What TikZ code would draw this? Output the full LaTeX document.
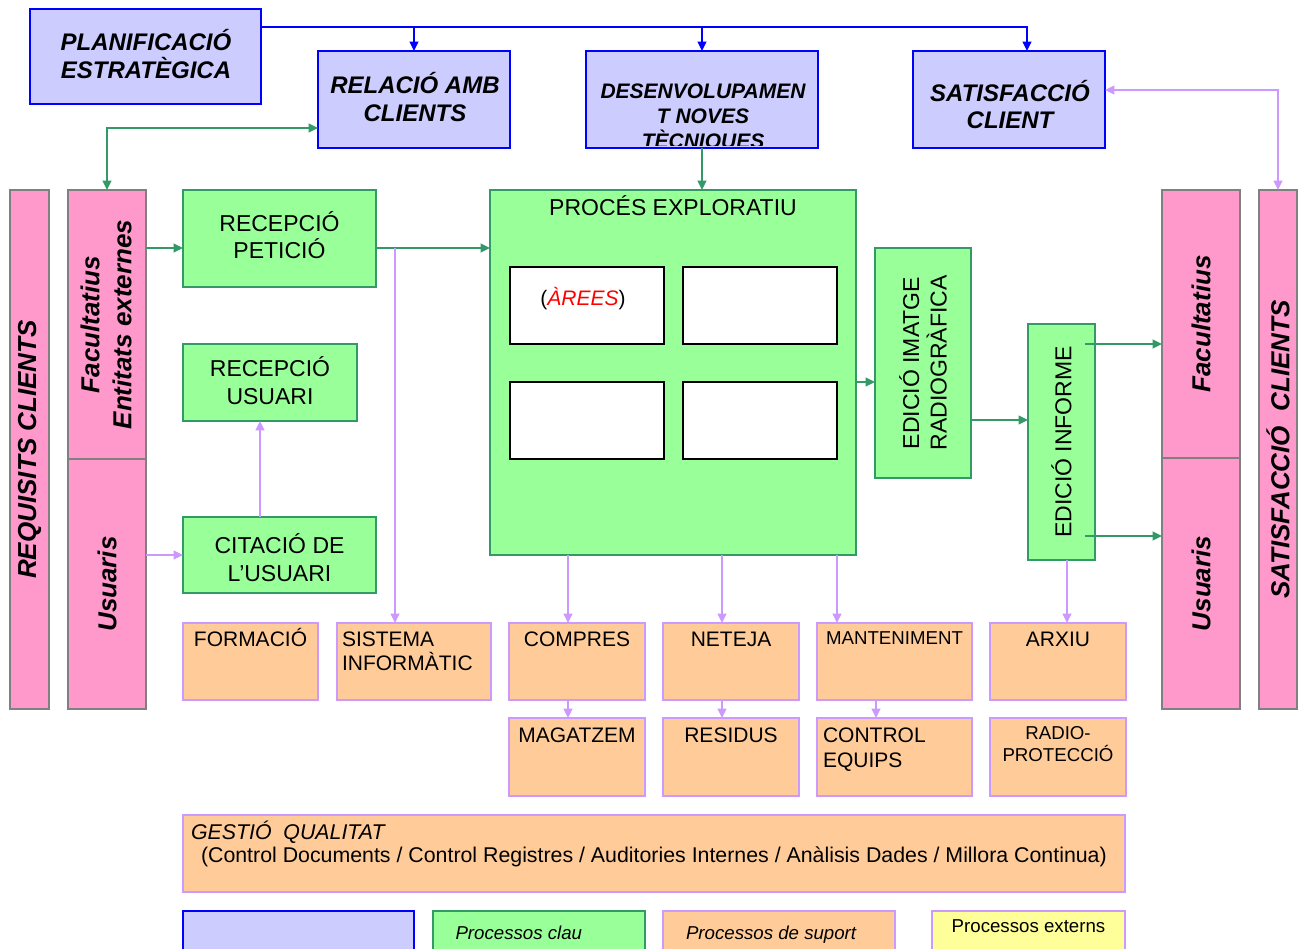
\documentclass[tikz,border=0pt]{standalone}
\usepackage{fontspec}
\setmainfont{Liberation Sans}
\usetikzlibrary{arrows.meta,fit,calc}

\definecolor{bline}{HTML}{0000FF}
\definecolor{bfill}{HTML}{CCCCFF}
\definecolor{gline}{HTML}{339966}
\definecolor{gfill}{HTML}{99FF99}
\definecolor{pline}{HTML}{808080}
\definecolor{pfill}{HTML}{FF99CC}
\definecolor{lav}{HTML}{CC99FF}
\definecolor{ofill}{HTML}{FFCC99}
\definecolor{yfill}{HTML}{FFFF99}
\definecolor{areared}{HTML}{FF0000}

\begin{document}
\begin{tikzpicture}[x=0.75pt,y=-0.75pt,
  every node/.style={inner sep=0pt, outer sep=0pt},
  box/.style={line width=1.8pt, inner sep=0pt, outer sep=0pt, fit={#1}},
  bluebox/.style={box={#1}, draw=bline, fill=bfill},
  greenbox/.style={box={#1}, draw=gline, fill=gfill},
  pinkbox/.style={box={#1}, draw=pline, fill=pfill},
  orbox/.style={box={#1}, draw=lav, fill=ofill},
  ylbox/.style={box={#1}, draw=lav, fill=yfill},
  whbox/.style={box={#1}, draw=black, fill=white, line width=1.4pt},
  toptext/.style={font=\fontsize{18}{21}\selectfont\bfseries\itshape, anchor=base},
  destext/.style={font=\fontsize{15.75}{18.75}\selectfont\bfseries\itshape, anchor=base},
  gtext/.style={font=\fontsize{17.25}{20.5}\selectfont, align=center},
  gline/.style={font=\fontsize{17.25}{20.5}\selectfont, anchor=base},
  coltext/.style={font=\fontsize{19.5}{24}\selectfont\bfseries\itshape, align=center},
  otext/.style={font=\fontsize{15.75}{18}\selectfont},
  qtext/.style={font=\fontsize{16}{18}\selectfont},
  stext/.style={font=\fontsize{14}{16.5}\selectfont},
  wire/.style={line width=1.4pt},
  garrow/.style={wire, draw=gline, -{Triangle[length=7pt,width=6.5pt]}},
  gboth/.style={wire, draw=gline, {Triangle[length=7pt,width=6.5pt]}-{Triangle[length=7pt,width=6.5pt]}},
  larrow/.style={wire, draw=lav, -{Triangle[length=7pt,width=6.5pt]}},
  lboth/.style={wire, draw=lav, {Triangle[length=7pt,width=6.5pt]}-{Triangle[length=7pt,width=6.5pt]}},
  barrow/.style={wire, draw=bline, -{Triangle[length=7pt,width=6.5pt]}},
]
\useasboundingbox (0,0) rectangle (1306,949);

% ---- strategic processes (top row)
\node[bluebox={(30,9)(261,104)}] (plan) {};
\node[toptext] (planA) at (146,50.6) {PLANIFICACIÓ};
\node[toptext] (planB) at (146,78.6) {ESTRATÈGICA};
\node[bluebox={(318,51)(510,148)}] (rel) {};
\node[toptext] (relA) at (415,93.6) {RELACIÓ AMB};
\node[toptext] (relB) at (415,121.6) {CLIENTS};
\node[box={(586,51)(818,148)}, fill=bfill] (des) {};
\begin{scope}
  \clip (587,52) rectangle (817,145);
  \node[destext] (desA) at (703,98.5) {DESENVOLUPAMEN};
  \node[destext] (desB) at (703,123) {T NOVES};
  \node[destext] (desC) at (703,148) {TÈCNIQUES};
\end{scope}
\draw[bline, line width=1.8pt] (des.north west) rectangle (des.south east);
\node[bluebox={(913,51)(1105,148)}] (sat) {};
\node[toptext] (satA) at (1010,101) {SATISFACCIÓ};
\node[toptext] (satB) at (1010,128.5) {CLIENT};

% ---- client columns
\node[pinkbox={(10,190)(49,709)}] (req) {};
\node[coltext, rotate=90] (reqt) at (req.center) {REQUISITS CLIENTS};
\node[pinkbox={(68,190)(146,459)}] (fac) {};
\node[coltext, rotate=90] (fact) at ($(fac.center)+(-1,0)$) {Facultatius\\Entitats externes};
\node[pinkbox={(68,459)(146,709)}] (usr) {};
\node[coltext, rotate=90] (usrt) at (usr.center) {Usuaris};

\node[pinkbox={(1162,190)(1240,458)}] (facR) {};
\node[coltext, rotate=90] (facRt) at (facR.center) {Facultatius};
\node[pinkbox={(1162,458)(1240,709)}] (usrR) {};
\node[coltext, rotate=90] (usrRt) at (usrR.center) {Usuaris};
\node[pinkbox={(1259,190)(1297,709)}] (satcl) {};
\node[coltext, rotate=90] (satclt) at (satcl.center) {SATISFACCIÓ\ \ CLIENTS};

% ---- key processes
\node[greenbox={(183,190)(376,287)}] (pet) {};
\node[gline] (petA) at (pet.center |- 0,231.2) {RECEPCIÓ};
\node[gline] (petB) at (pet.center |- 0,258.2) {PETICIÓ};
\node[greenbox={(183,344)(357,421)}] (usu) {};
\node[gline] (usuA) at (usu.center |- 0,376.2) {RECEPCIÓ};
\node[gline] (usuB) at (usu.center |- 0,404.2) {USUARI};
\node[greenbox={(183,517)(376,593)}] (cit) {};
\node[gline] (citA) at (cit.center |- 0,553.2) {CITACIÓ DE};
\node[gline] (citB) at (cit.center |- 0,581.2) {L{\char39}USUARI};
\node[greenbox={(490,190)(856,555)}] (proc) {};
\node[gline] (proct) at (673,215) {PROCÉS EXPLORATIU};
\node[whbox={(510,267)(664,344)}] (ar1) {};
\node[whbox={(683,267)(837,344)}] (ar2) {};
\node[whbox={(510,382)(664,459)}] (ar3) {};
\node[whbox={(683,382)(837,459)}] (ar4) {};
\node[otext, anchor=base] (ar1t) at (583,305.5) {(\textcolor{areared}{\itshape ÀREES})};
\node[greenbox={(875,248)(971,478)}] (img) {};
\node[gtext, rotate=90] (imgt) at (img.center) {EDICIÓ IMATGE\\RADIOGRÀFICA};
\node[greenbox={(1028,324)(1095,560)}] (inf) {};
\node[gtext, rotate=90] (inft) at (inf.center) {EDICIÓ INFORME};

% ---- support processes
\node[orbox={(183,623)(318,700)}] (form) {};
\node[otext, anchor=base] (formt) at (form.center |- 0,646.5) {FORMACIÓ};
\node[orbox={(337,623)(491,700)}] (sist) {};
\node[otext, anchor=base west] (sistA) at (342,646.5) {SISTEMA};
\node[otext, anchor=base west] (sistB) at (342,670.5) {INFORMÀTIC};
\node[orbox={(509,623)(645,700)}] (comp) {};
\node[otext, anchor=base] (compt) at (comp.center |- 0,646.5) {COMPRES};
\node[orbox={(663,623)(799,700)}] (net) {};
\node[otext, anchor=base] (nett) at (net.center |- 0,646.5) {NETEJA};
\node[orbox={(817,623)(972,700)}] (mant) {};
\node[stext, anchor=base] (mantt) at (mant.center |- 0,644.7) {MANTENIMENT};
\node[orbox={(990,623)(1126,700)}] (arx) {};
\node[otext, anchor=base] (arxt) at (arx.center |- 0,646.5) {ARXIU};

\node[orbox={(509,718)(645,796)}] (mag) {};
\node[otext, anchor=base] (magt) at (mag.center |- 0,742.5) {MAGATZEM};
\node[orbox={(663,718)(799,796)}] (res) {};
\node[otext, anchor=base] (rest) at (res.center |- 0,742.5) {RESIDUS};
\node[orbox={(817,718)(972,796)}] (ctrl) {};
\node[otext, anchor=base west] (ctrlA) at (823,742.5) {CONTROL};
\node[otext, anchor=base west] (ctrlB) at (823,767.5) {EQUIPS};
\node[orbox={(990,718)(1126,796)}] (rad) {};
\node[stext, anchor=base] (radA) at (rad.center |- 0,739.7) {RADIO-};
\node[stext, anchor=base] (radB) at (rad.center |- 0,761.7) {PROTECCIÓ};

\node[orbox={(183,815)(1125,892)}] (gest) {};
\node[qtext, anchor=base west] (gestA) at (191,839.5) {\itshape GESTIÓ\ \ QUALITAT};
\node[qtext, anchor=base west] (gestB) at (201,862) {(Control Documents / Control Registres / Auditories Internes / Anàlisis Dades / Millora Continua)};

% ---- legend
\node[bluebox={(183,911)(414,958)}] (legB) {};
\node[greenbox={(433,911)(645,958)}] (legG) {};
\node[stext, anchor=base west] (legGt) at (455.5,939.5) {\itshape Processos clau};
\node[orbox={(663,911)(895,958)}] (legO) {};
\node[stext, anchor=base west] (legOt) at (686,939.5) {\itshape Processos de suport};
\node[ylbox={(932,911)(1125,958)}] (legY) {};
\node[stext, anchor=base] (legYt) at (legY.center |- 0,932) {Processos externs};

% ---- connectors: strategy
\coordinate (bl) at ($(plan.north east)+(0,18)$);
\coordinate (satin) at ($(sat.north)+(18,0)$);
\draw[barrow] (bl) -- (bl -| satin) -- (satin);
\draw[barrow] (bl -| rel.north) -- (rel.north);
\draw[barrow] (bl -| des.north) -- (des.north);
\draw[gboth] (fac.north) |- ($(rel.south west)+(0,-20)$);
\draw[garrow] (des.south) -- (des.south |- proc.north);
\draw[lboth] ($(sat.east)+(0,-9.5)$) -| (satcl.north);

% ---- connectors: key flow
\coordinate (yA) at (0,248);
\coordinate (yB) at (0,382);
\coordinate (yC) at (0,420);
\coordinate (yF) at (0,344);
\coordinate (yU) at (0,536);
\draw[garrow] (fac.east |- yA) -- (pet.west |- yA);
\draw[garrow] (pet.east |- yA) -- (proc.west |- yA);
\draw[garrow] (proc.east |- yB) -- (img.west |- yB);
\draw[garrow] (img.east |- yC) -- (inf.west |- yC);
\draw[garrow] ($(inf.east |- yF)+(-10,0)$) -- (facR.west |- yF);
\draw[garrow] ($(inf.east |- yU)+(-10,0)$) -- (usrR.west |- yU);
\draw[larrow] (usr.east |- cit.west) -- (cit.west);
\coordinate (xC) at (260,0);
\draw[larrow] (cit.north -| xC) -- (usu.south -| xC);

% ---- connectors: support
\coordinate (xS) at (395,0);
\coordinate (x1) at (568,0);
\coordinate (x2) at (722,0);
\coordinate (x3) at (837,0);
\coordinate (x4) at (1067,0);
\coordinate (x5) at (876,0);
\draw[larrow] (xS |- yA) -- (xS |- sist.north);
\draw[larrow] (proc.south -| x1) -- (comp.north -| x1);
\draw[larrow] (proc.south -| x2) -- (net.north -| x2);
\draw[larrow] (proc.south -| x3) -- (mant.north -| x3);
\draw[larrow] (inf.south -| x4) -- (arx.north -| x4);
\draw[larrow] (comp.south -| x1) -- (mag.north -| x1);
\draw[larrow] (net.south -| x2) -- (res.north -| x2);
\draw[larrow] (mant.south -| x5) -- (ctrl.north -| x5);
\end{tikzpicture}
\end{document}
